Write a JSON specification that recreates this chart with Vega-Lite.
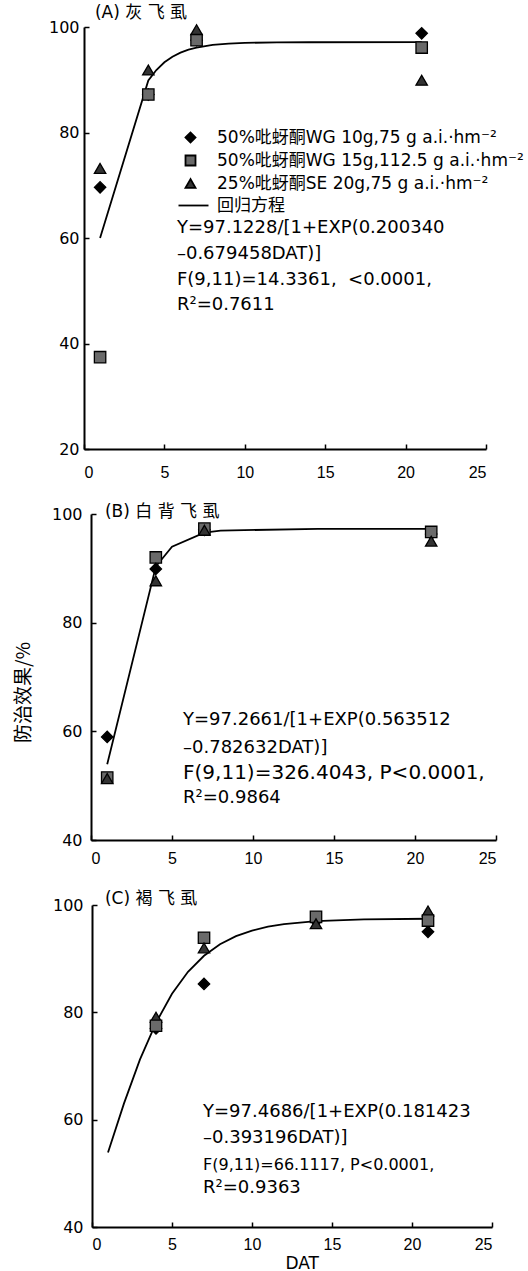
{
  "$schema": "https://vega.github.io/schema/vega-lite/v6.json",
  "padding": {"left": 14, "top": 4, "right": 0, "bottom": 0},
  "bounds": "flush",
  "spacing": 65,
  "background": "white",
  "config": {
    "view": {"stroke": null},
    "axis": {"grid": false, "domainColor": "black", "domainWidth": 2, "tickColor": "black", "tickWidth": 1.5, "tickSize": -5, "labelColor": "black", "labelFontSize": 16, "titleColor": "black", "titleFontWeight": "normal", "labelOverlap": false},
    "axisX": {"labelFont": "Liberation Sans"},
    "axisY": {"labelFont": "DejaVu Sans"}
  },
  "resolve": {"scale": {"shape": "independent", "fill": "independent", "stroke": "independent"}},
  "datasets": {
    "curveA": [{"x":1,"y":59.98},{"x":4,"y":89.87},{"x":4.5,"y":91.85},{"x":5,"y":93.31},{"x":5.5,"y":94.37},{"x":6,"y":95.15},{"x":6.5,"y":95.71},{"x":7,"y":96.11},{"x":8,"y":96.61},{"x":9,"y":96.86},{"x":10,"y":96.99},{"x":12,"y":97.09},{"x":14,"y":97.11},{"x":21,"y":97.12}],
    "curveB": [{"x":1,"y":53.94},{"x":4,"y":90.33},{"x":5,"y":93.97},{"x":7,"y":96.56},{"x":8,"y":96.94},{"x":14,"y":97.27},{"x":21,"y":97.27}],
    "curveC": [{"x":1,"y":53.88},{"x":2,"y":63.04},{"x":3,"y":71.22},{"x":4,"y":78.05},{"x":5,"y":83.46},{"x":6,"y":87.55},{"x":7,"y":90.54},{"x":8,"y":92.69},{"x":9,"y":94.19},{"x":10,"y":95.23},{"x":11,"y":95.95},{"x":12,"y":96.44},{"x":14,"y":97.0},{"x":17,"y":97.32},{"x":21,"y":97.44}],
    "ptsA": [
      {"x":1,"y":69.6,"s":"50%吡蚜酮WG 10g,75 g a.i.·hm⁻²"},
      {"x":1,"y":73.2,"s":"25%吡蚜酮SE 20g,75 g a.i.·hm⁻²"},
      {"x":1,"y":37.4,"s":"50%吡蚜酮WG 15g,112.5 g a.i.·hm⁻²"},
      {"x":4,"y":87.2,"s":"50%吡蚜酮WG 10g,75 g a.i.·hm⁻²"},
      {"x":4,"y":87.2,"s":"50%吡蚜酮WG 15g,112.5 g a.i.·hm⁻²"},
      {"x":4,"y":91.85,"s":"25%吡蚜酮SE 20g,75 g a.i.·hm⁻²"},
      {"x":7,"y":97.5,"s":"50%吡蚜酮WG 10g,75 g a.i.·hm⁻²"},
      {"x":7,"y":99.5,"s":"25%吡蚜酮SE 20g,75 g a.i.·hm⁻²"},
      {"x":7,"y":97.5,"s":"50%吡蚜酮WG 15g,112.5 g a.i.·hm⁻²"},
      {"x":21,"y":98.8,"s":"50%吡蚜酮WG 10g,75 g a.i.·hm⁻²"},
      {"x":21,"y":96.1,"s":"50%吡蚜酮WG 15g,112.5 g a.i.·hm⁻²"},
      {"x":21,"y":89.9,"s":"25%吡蚜酮SE 20g,75 g a.i.·hm⁻²"}
    ],
    "ptsB": [
      {"x":1,"y":58.96,"s":"50%吡蚜酮WG 10g,75 g a.i.·hm⁻²"},
      {"x":1,"y":51.5,"s":"50%吡蚜酮WG 15g,112.5 g a.i.·hm⁻²"},
      {"x":1,"y":51.3,"s":"25%吡蚜酮SE 20g,75 g a.i.·hm⁻²"},
      {"x":4,"y":92.0,"s":"50%吡蚜酮WG 15g,112.5 g a.i.·hm⁻²"},
      {"x":4,"y":87.7,"s":"25%吡蚜酮SE 20g,75 g a.i.·hm⁻²"},
      {"x":4,"y":89.9,"s":"50%吡蚜酮WG 10g,75 g a.i.·hm⁻²"},
      {"x":7,"y":97.1,"s":"50%吡蚜酮WG 10g,75 g a.i.·hm⁻²"},
      {"x":7,"y":97.3,"s":"50%吡蚜酮WG 15g,112.5 g a.i.·hm⁻²"},
      {"x":7,"y":97.0,"s":"25%吡蚜酮SE 20g,75 g a.i.·hm⁻²"},
      {"x":21,"y":96.3,"s":"50%吡蚜酮WG 10g,75 g a.i.·hm⁻²"},
      {"x":21,"y":96.7,"s":"50%吡蚜酮WG 15g,112.5 g a.i.·hm⁻²"},
      {"x":21,"y":95.0,"s":"25%吡蚜酮SE 20g,75 g a.i.·hm⁻²"}
    ],
    "ptsC": [
      {"x":4,"y":77.0,"s":"50%吡蚜酮WG 10g,75 g a.i.·hm⁻²"},
      {"x":4,"y":79.1,"s":"25%吡蚜酮SE 20g,75 g a.i.·hm⁻²"},
      {"x":4,"y":77.5,"s":"50%吡蚜酮WG 15g,112.5 g a.i.·hm⁻²"},
      {"x":7,"y":93.9,"s":"50%吡蚜酮WG 15g,112.5 g a.i.·hm⁻²"},
      {"x":7,"y":92.0,"s":"25%吡蚜酮SE 20g,75 g a.i.·hm⁻²"},
      {"x":7,"y":85.3,"s":"50%吡蚜酮WG 10g,75 g a.i.·hm⁻²"},
      {"x":14,"y":97.0,"s":"50%吡蚜酮WG 10g,75 g a.i.·hm⁻²"},
      {"x":14,"y":97.8,"s":"50%吡蚜酮WG 15g,112.5 g a.i.·hm⁻²"},
      {"x":14,"y":96.5,"s":"25%吡蚜酮SE 20g,75 g a.i.·hm⁻²"},
      {"x":21,"y":98.9,"s":"25%吡蚜酮SE 20g,75 g a.i.·hm⁻²"},
      {"x":21,"y":95.0,"s":"50%吡蚜酮WG 10g,75 g a.i.·hm⁻²"},
      {"x":21,"y":97.1,"s":"50%吡蚜酮WG 15g,112.5 g a.i.·hm⁻²"}
    ]
  },
  "vconcat": [
    {
      "width": 402, "height": 422,
      "layer": [
        {"data": {"name": "curveA"}, "mark": {"type": "line", "color": "black", "strokeWidth": 1.8},
         "encoding": {
           "x": {"field": "x", "type": "quantitative", "scale": {"domain": [0, 25], "nice": false}, "axis": {"values": [0,5,10,15,20,25], "labelPadding": 20, "title": null}},
           "y": {"field": "y", "type": "quantitative", "scale": {"domain": [20, 100], "nice": false}, "axis": {"values": [20,40,60,80,100], "labelPadding": 10, "title": null}}
         }},
        {"data": {"name": "ptsA"}, "mark": {"type": "point", "filled": true, "size": 130, "strokeWidth": 1.3, "opacity": 1},
         "encoding": {
           "x": {"field": "x", "type": "quantitative"},
           "y": {"field": "y", "type": "quantitative"},
           "shape": {"field": "s", "type": "nominal",
             "scale": {"domain": ["50%吡蚜酮WG 10g,75 g a.i.·hm⁻²", "50%吡蚜酮WG 15g,112.5 g a.i.·hm⁻²", "25%吡蚜酮SE 20g,75 g a.i.·hm⁻²", "回归方程"], "range": ["diamond", "square", "triangle-up", "M-2.4,0L3.6,0"]},
             "legend": {"orient": "none", "legendX": 98, "legendY": 102, "title": null, "labelFont": "DejaVu Sans, Noto Sans CJK SC", "labelFontSize": 17, "labelColor": "black", "labelLimit": 1000, "labelOffset": 18, "symbolSize": 100, "symbolStrokeWidth": 1.8, "rowPadding": 4, "padding": 0, "symbolOpacity": 1}},
           "fill": {"field": "s", "type": "nominal",
             "scale": {"domain": ["50%吡蚜酮WG 10g,75 g a.i.·hm⁻²", "50%吡蚜酮WG 15g,112.5 g a.i.·hm⁻²", "25%吡蚜酮SE 20g,75 g a.i.·hm⁻²", "回归方程"], "range": ["#000000", "#6a6a6a", "#333333", "#000000"]},
             "legend": {"orient": "none", "legendX": 98, "legendY": 102, "title": null, "labelFont": "DejaVu Sans, Noto Sans CJK SC", "labelFontSize": 17, "labelColor": "black", "labelLimit": 1000, "labelOffset": 18, "symbolSize": 100, "symbolStrokeWidth": 1.8, "rowPadding": 4, "padding": 0, "symbolOpacity": 1}},
           "stroke": {"field": "s", "type": "nominal",
             "scale": {"domain": ["50%吡蚜酮WG 10g,75 g a.i.·hm⁻²", "50%吡蚜酮WG 15g,112.5 g a.i.·hm⁻²", "25%吡蚜酮SE 20g,75 g a.i.·hm⁻²", "回归方程"], "range": ["#000000", "#000000", "#000000", "#000000"]},
             "legend": {"orient": "none", "legendX": 98, "legendY": 102, "title": null, "labelFont": "DejaVu Sans, Noto Sans CJK SC", "labelFontSize": 17, "labelColor": "black", "labelLimit": 1000, "labelOffset": 18, "symbolSize": 100, "symbolStrokeWidth": 1.8, "rowPadding": 4, "padding": 0, "symbolOpacity": 1}}
         }},
        {"data": {"values": [{}]}, "mark": {"type": "text", "align": "left", "baseline": "middle", "font": "DejaVu Sans, Noto Sans CJK SC", "fontSize": 17, "color": "black"},
         "encoding": {"x": {"datum": 0.68}, "y": {"datum": 102.65}, "text": {"value": "(A) 灰 飞 虱"}}},
        {"data": {"values": [{}]}, "mark": {"type": "text", "align": "left", "baseline": "middle", "font": "DejaVu Sans", "fontSize": 18, "color": "black"},
         "encoding": {"x": {"datum": 5.78}, "y": {"datum": 61.9}, "text": {"value": "Y=97.1228/[1+EXP(0.200340"}}},
        {"data": {"values": [{}]}, "mark": {"type": "text", "align": "left", "baseline": "middle", "font": "DejaVu Sans", "fontSize": 18, "color": "black"},
         "encoding": {"x": {"datum": 5.78}, "y": {"datum": 56.97}, "text": {"value": "–0.679458DAT)]"}}},
        {"data": {"values": [{}]}, "mark": {"type": "text", "align": "left", "baseline": "middle", "font": "DejaVu Sans", "fontSize": 18, "color": "black"},
         "encoding": {"x": {"datum": 5.78}, "y": {"datum": 52.04}, "text": {"value": "F(9,11)=14.3361, \u00a0<0.0001,"}}},
        {"data": {"values": [{}]}, "mark": {"type": "text", "align": "left", "baseline": "middle", "font": "DejaVu Sans", "fontSize": 18, "color": "black"},
         "encoding": {"x": {"datum": 5.78}, "y": {"datum": 47.3}, "text": {"value": "R²=0.7611"}}}
      ]
    },
    {
      "width": 412, "height": 326,
      "layer": [
        {"data": {"name": "curveB"}, "mark": {"type": "line", "color": "black", "strokeWidth": 1.8},
         "encoding": {
           "x": {"field": "x", "type": "quantitative", "scale": {"domain": [0, 25], "nice": false, "range": [7, 412]}, "axis": {"values": [0,5,10,15,20,25], "labelPadding": 15, "title": null}},
           "y": {"field": "y", "type": "quantitative", "scale": {"domain": [40, 100], "nice": false}, "axis": {"values": [40,60,80,100], "labelPadding": 14, "offset": -7, "title": "防治效果/%", "titleX": -67.5, "titleY": 178, "titleAngle": 270, "titleAlign": "center", "titleBaseline": "middle", "titleFont": "Noto Sans CJK SC", "titleFontSize": 19}}
         }},
        {"data": {"name": "ptsB"}, "mark": {"type": "point", "filled": true, "size": 130, "stroke": "black", "strokeWidth": 1.3, "opacity": 1},
         "encoding": {
           "x": {"field": "x", "type": "quantitative"},
           "y": {"field": "y", "type": "quantitative"},
           "shape": {"field": "s", "type": "nominal",
             "scale": {"domain": ["50%吡蚜酮WG 10g,75 g a.i.·hm⁻²", "50%吡蚜酮WG 15g,112.5 g a.i.·hm⁻²", "25%吡蚜酮SE 20g,75 g a.i.·hm⁻²", "回归方程"], "range": ["diamond", "square", "triangle-up", "M-2.4,0L3.6,0"]}, "legend": null},
           "fill": {"field": "s", "type": "nominal",
             "scale": {"domain": ["50%吡蚜酮WG 10g,75 g a.i.·hm⁻²", "50%吡蚜酮WG 15g,112.5 g a.i.·hm⁻²", "25%吡蚜酮SE 20g,75 g a.i.·hm⁻²", "回归方程"], "range": ["#000000", "#6a6a6a", "#333333", "#000000"]}, "legend": null}
         }},
        {"data": {"values": [{}]}, "mark": {"type": "text", "align": "left", "baseline": "middle", "font": "DejaVu Sans, Noto Sans CJK SC", "fontSize": 17, "color": "black"},
         "encoding": {"x": {"datum": 0.86}, "y": {"datum": 100.37}, "text": {"value": "(B) 白 背 飞 虱"}}},
        {"data": {"values": [{}]}, "mark": {"type": "text", "align": "left", "baseline": "middle", "font": "DejaVu Sans", "fontSize": 18, "color": "black"},
         "encoding": {"x": {"datum": 5.68}, "y": {"datum": 62.09}, "text": {"value": "Y=97.2661/[1+EXP(0.563512"}}},
        {"data": {"values": [{}]}, "mark": {"type": "text", "align": "left", "baseline": "middle", "font": "DejaVu Sans", "fontSize": 18, "color": "black"},
         "encoding": {"x": {"datum": 5.68}, "y": {"datum": 56.93}, "text": {"value": "–0.782632DAT)]"}}},
        {"data": {"values": [{}]}, "mark": {"type": "text", "align": "left", "baseline": "middle", "font": "DejaVu Sans", "fontSize": 20, "color": "black"},
         "encoding": {"x": {"datum": 5.68}, "y": {"datum": 52.33}, "text": {"value": "F(9,11)=326.4043, P<0.0001,"}}},
        {"data": {"values": [{}]}, "mark": {"type": "text", "align": "left", "baseline": "middle", "font": "DejaVu Sans", "fontSize": 18, "color": "black"},
         "encoding": {"x": {"datum": 5.68}, "y": {"datum": 47.73}, "text": {"value": "R²=0.9864"}}}
      ]
    },
    {
      "width": 408, "height": 322,
      "layer": [
        {"data": {"name": "curveC"}, "mark": {"type": "line", "color": "black", "strokeWidth": 1.8},
         "encoding": {
           "x": {"field": "x", "type": "quantitative", "scale": {"domain": [0, 25], "nice": false, "range": [8, 408]}, "axis": {"values": [0,5,10,15,20,25], "labelPadding": 14, "title": "DAT", "titleX": 217.7, "titleY": 36.5, "titleAlign": "center", "titleBaseline": "middle", "titleFont": "DejaVu Sans", "titleFontSize": 17}},
           "y": {"field": "y", "type": "quantitative", "scale": {"domain": [40, 100], "nice": false}, "axis": {"values": [40,60,80,100], "labelPadding": 14, "offset": -8, "title": null}}
         }},
        {"data": {"name": "ptsC"}, "mark": {"type": "point", "filled": true, "size": 130, "stroke": "black", "strokeWidth": 1.3, "opacity": 1},
         "encoding": {
           "x": {"field": "x", "type": "quantitative"},
           "y": {"field": "y", "type": "quantitative"},
           "shape": {"field": "s", "type": "nominal",
             "scale": {"domain": ["50%吡蚜酮WG 10g,75 g a.i.·hm⁻²", "50%吡蚜酮WG 15g,112.5 g a.i.·hm⁻²", "25%吡蚜酮SE 20g,75 g a.i.·hm⁻²", "回归方程"], "range": ["diamond", "square", "triangle-up", "M-2.4,0L3.6,0"]}, "legend": null},
           "fill": {"field": "s", "type": "nominal",
             "scale": {"domain": ["50%吡蚜酮WG 10g,75 g a.i.·hm⁻²", "50%吡蚜酮WG 15g,112.5 g a.i.·hm⁻²", "25%吡蚜酮SE 20g,75 g a.i.·hm⁻²", "回归方程"], "range": ["#000000", "#6a6a6a", "#333333", "#000000"]}, "legend": null}
         }},
        {"data": {"values": [{}]}, "mark": {"type": "text", "align": "left", "baseline": "middle", "font": "DejaVu Sans, Noto Sans CJK SC", "fontSize": 17, "color": "black"},
         "encoding": {"x": {"datum": 0.81}, "y": {"datum": 101.12}, "text": {"value": "(C) 褐 飞 虱"}}},
        {"data": {"values": [{}]}, "mark": {"type": "text", "align": "left", "baseline": "middle", "font": "DejaVu Sans", "fontSize": 18, "color": "black"},
         "encoding": {"x": {"datum": 6.94}, "y": {"datum": 61.43}, "text": {"value": "Y=97.4686/[1+EXP(0.181423"}}},
        {"data": {"values": [{}]}, "mark": {"type": "text", "align": "left", "baseline": "middle", "font": "DejaVu Sans", "fontSize": 18, "color": "black"},
         "encoding": {"x": {"datum": 6.94}, "y": {"datum": 56.58}, "text": {"value": "–0.393196DAT)]"}}},
        {"data": {"values": [{}]}, "mark": {"type": "text", "align": "left", "baseline": "middle", "font": "DejaVu Sans", "fontSize": 16, "color": "black"},
         "encoding": {"x": {"datum": 6.94}, "y": {"datum": 51.55}, "text": {"value": "F(9,11)=66.1117, P<0.0001,"}}},
        {"data": {"values": [{}]}, "mark": {"type": "text", "align": "left", "baseline": "middle", "font": "DejaVu Sans", "fontSize": 18, "color": "black"},
         "encoding": {"x": {"datum": 6.94}, "y": {"datum": 47.27}, "text": {"value": "R²=0.9363"}}}
      ]
    }
  ]
}
